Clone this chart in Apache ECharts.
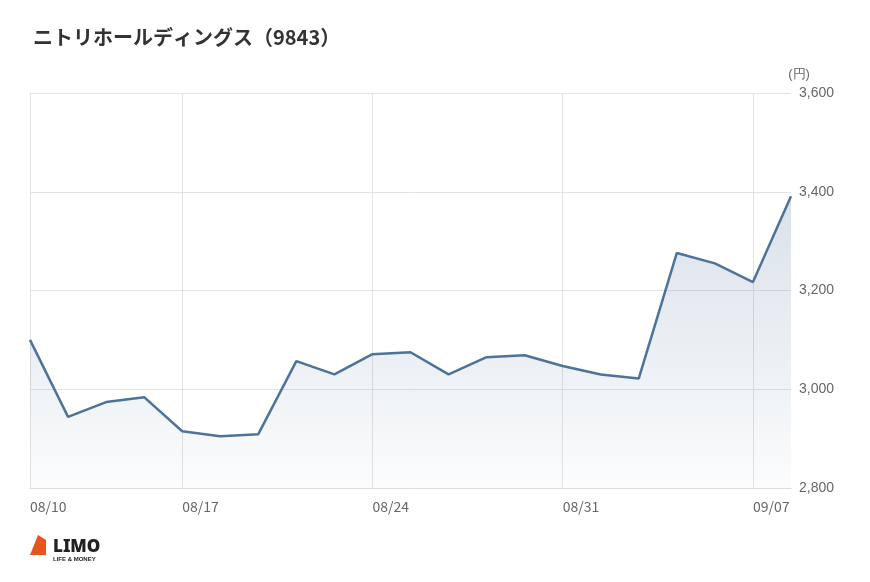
<!DOCTYPE html>
<html><head><meta charset="utf-8">
<script src="https://cdn.jsdelivr.net/npm/echarts@6/dist/echarts.min.js"></script>
<style>html,body{margin:0;background:#fff}#c{width:870px;height:582px}</style>
</head><body><div id="c"></div>
<script>
const dates = ['08/10','08/12','08/13','08/14','08/17','08/18','08/19','08/20','08/21','08/24','08/25','08/26','08/27','08/28','08/31','09/01','09/02','09/03','09/04','09/07','09/08'];
const prices = [3100,2944,2974,2984,2915,2905,2909,3057,3030,3071,3075,3030,3065,3069,3047,3030,3022,3276,3255,3217,3391];
const labelIdx = [0,4,9,14,19];
const showIdx = (i) => labelIdx.indexOf(i) >= 0;
const chart = echarts.init(document.getElementById('c'));
chart.setOption({
  animation:false,
  title:[{text:'ニトリホールディングス（9843）',left:28,top:22,textStyle:{fontFamily:'Noto Sans CJK JP',fontSize:20,fontWeight:'bold',color:'#333'}},
         {text:'LIMO',left:48,top:534,textStyle:{fontFamily:'Noto Sans',fontSize:17,fontWeight:'900',color:'#222'},subtext:'LIFE & MONEY',itemGap:0,subtextStyle:{fontSize:6,color:'#222',fontWeight:'bold'}}],
  graphic:[{type:'polygon',shape:{points:[[30,555],[38,535],[46,540],[46,555]]},style:{fill:'#e8541e'}}],
  grid:{left:30,right:79,top:93,bottom:94},
  xAxis:{type:'category',data:dates,boundaryGap:false,
    axisLine:{lineStyle:{color:'#ddd'}},axisTick:{show:false},
    axisLabel:{interval:(i)=>showIdx(i),color:'#666',fontSize:14,fontFamily:'Noto Sans CJK JP',margin:12,align:'left'},
    splitLine:{show:true,interval:(i)=>showIdx(i),lineStyle:{color:'#e3e3e3'}}},
  yAxis:{type:'value',position:'right',min:2800,max:3600,interval:200,name:'(円)',
    nameTextStyle:{color:'#666',fontSize:13,padding:[0,0,0,16]},nameGap:12,
    axisLabel:{color:'#666',fontSize:14,margin:8,formatter:v=>v.toLocaleString('en-US')},
    axisLine:{show:false},axisTick:{show:false},splitLine:{lineStyle:{color:'#e3e3e3'}}},
  series:[{type:'line',data:prices,symbol:'none',lineStyle:{color:'#4e7399',width:2.5},
    areaStyle:{color:new echarts.graphic.LinearGradient(0,0,0,1,[{offset:0,color:'rgba(78,115,153,0.3)'},{offset:1,color:'rgba(78,115,153,0.03)'}])}}]
});
</script></body></html>
